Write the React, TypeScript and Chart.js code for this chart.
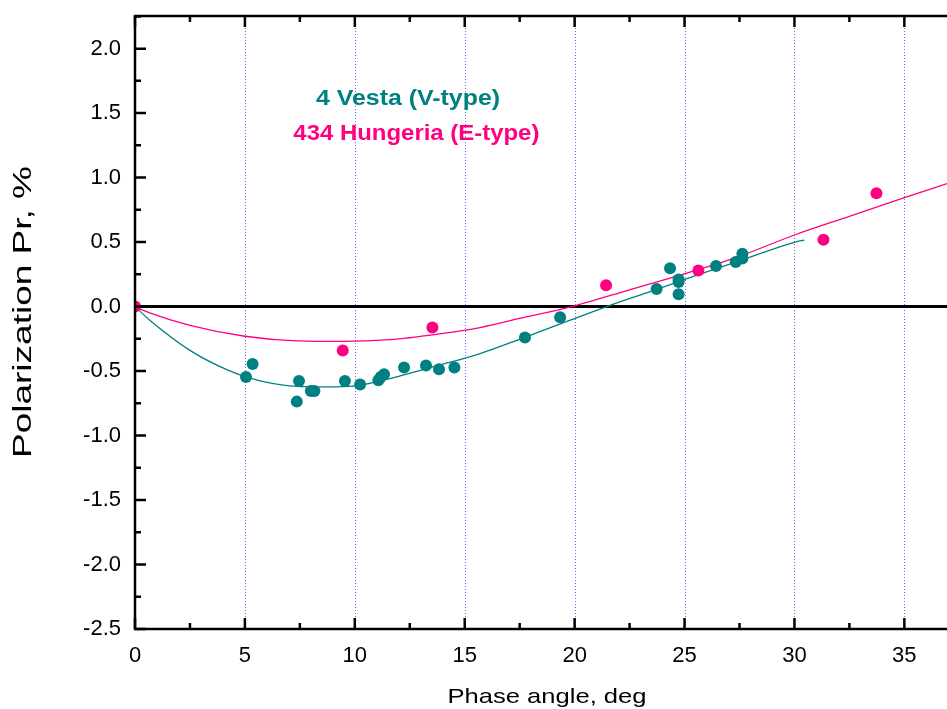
import React, { useEffect, useRef } from "react";
import { Chart, registerables } from "chart.js";

Chart.register(...registerables);

// Observed data: 4 Vesta (V-type)
const vestaX = [5.05, 5.35, 7.36, 7.46, 8.0, 8.16, 9.55, 10.24, 11.07, 11.18, 11.33, 12.24, 13.24, 13.83, 14.53, 17.74, 19.34, 23.73, 24.34, 24.73, 24.73, 24.73, 26.43, 27.33, 27.63, 27.63];
const vestaY = [-0.546, -0.445, -0.737, -0.577, -0.654, -0.654, -0.577, -0.605, -0.571, -0.546, -0.525, -0.473, -0.457, -0.486, -0.473, -0.24, -0.083, 0.137, 0.297, 0.21, 0.19, 0.095, 0.315, 0.346, 0.41, 0.372];

// Observed data: 434 Hungeria (E-type)
const hungX = [0, 9.45, 13.53, 21.43, 25.63, 31.32, 33.73];
const hungY = [0, -0.341, -0.163, 0.165, 0.279, 0.519, 0.878];

// Fitted curves
const vestaFitX = [0, 0.7, 2.5, 4.25, 6.0, 8.1, 9.8, 11.6, 13.5, 15.7, 17.7, 19.5, 21.46, 23.5, 25.5, 27.5, 30.03, 30.45];
const vestaFitY = [0, -0.11, -0.34, -0.494, -0.587, -0.623, -0.618, -0.558, -0.47, -0.364, -0.24, -0.125, 0, 0.12, 0.24, 0.355, 0.5, 0.516];
const hungFitX = [0, 0.7, 2.5, 5.0, 7.4, 9.5, 11.6, 13.7, 15.7, 17.5, 19.87, 22.5, 25.1, 27.5, 30.0, 32.5, 35.0, 36.94];
const hungFitY = [0, -0.05, -0.145, -0.23, -0.266, -0.27, -0.256, -0.215, -0.163, -0.092, 0, 0.13, 0.26, 0.39, 0.555, 0.7, 0.845, 0.953];

const xTickValues = [0, 5, 10, 15, 20, 25, 30, 35];
const yTickValues = [-2.5, -2.0, -1.5, -1.0, -0.5, 0.0, 0.5, 1.0, 1.5, 2.0];

const X_MIN = 0;
const X_MAX = 36.94;
const Y_MIN = -2.5;
const Y_MAX = 2.253;

const X_TITLE = "Phase angle, deg";
const Y_TITLE = "Polarization Pr, %";
const LABEL_VESTA = "4 Vesta (V-type)";
const LABEL_HUNG = "434 Hungeria (E-type)";

const TEAL = "#008080";
const PINK = "#FF0080";
const FONT = "'Liberation Sans', Arial, Helvetica, sans-serif";

const pts = (xs: number[], ys: number[]) => xs.map((x, i) => ({ x, y: ys[i] }));

function stretchedText(ctx: any, text: string, x: number, y: number, font: string, targetWidth: number, color: string, rotate = 0) {
  ctx.save();
  ctx.font = font;
  ctx.fillStyle = color;
  ctx.textAlign = "center";
  ctx.textBaseline = "alphabetic";
  const w = ctx.measureText(text).width;
  const sx = targetWidth / w;
  ctx.translate(x, y);
  if (rotate) ctx.rotate(rotate);
  ctx.scale(sx, 1);
  ctx.fillText(text, 0, 0);
  ctx.restore();
}

const framePlugin = {
  id: "frame",
  beforeDatasetsDraw(chart: any) {
    const { ctx, chartArea } = chart;
    const xs = chart.scales.x;
    const ys = chart.scales.y;
    ctx.save();
    ctx.strokeStyle = "rgba(60,60,255,0.75)";
    ctx.lineWidth = 1;
    ctx.setLineDash([1, 2]);
    xTickValues.forEach((v) => {
      if (v === 0) return;
      const px = Math.round(xs.getPixelForValue(v)) + 0.5;
      ctx.beginPath();
      ctx.moveTo(px, chartArea.top);
      ctx.lineTo(px, chartArea.bottom);
      ctx.stroke();
    });
    ctx.setLineDash([]);
    const y0 = ys.getPixelForValue(0);
    ctx.strokeStyle = "#000";
    ctx.lineWidth = 3;
    ctx.beginPath();
    ctx.moveTo(chartArea.left, y0);
    ctx.lineTo(chartArea.right, y0);
    ctx.stroke();
    ctx.restore();
  },
  afterDatasetsDraw(chart: any) {
    const { ctx, chartArea } = chart;
    const xs = chart.scales.x;
    const ys = chart.scales.y;
    const { left, right, top, bottom } = chartArea;
    ctx.save();
    ctx.strokeStyle = "#000";
    ctx.lineWidth = 2.5;
    ctx.beginPath();
    ctx.moveTo(left, top - 1.25);
    ctx.lineTo(left, bottom + 1.25);
    ctx.moveTo(left, bottom);
    ctx.lineTo(right, bottom);
    ctx.moveTo(left, top);
    ctx.lineTo(right, top);
    ctx.stroke();
    ctx.beginPath();
    for (let v = Y_MIN; v <= Y_MAX + 1e-9; v += 0.25) {
      const major = Math.abs(v * 2 - Math.round(v * 2)) < 1e-6;
      const len = major ? 11 : 6;
      const py = ys.getPixelForValue(v);
      ctx.moveTo(left, py);
      ctx.lineTo(left + len, py);
    }
    for (let v = X_MIN; v <= X_MAX + 1e-9; v += 2.5) {
      const major = Math.abs(v / 5 - Math.round(v / 5)) < 1e-6;
      const len = major ? 11 : 6;
      const px = xs.getPixelForValue(v);
      ctx.moveTo(px, bottom);
      ctx.lineTo(px, bottom - len);
      ctx.moveTo(px, top);
      ctx.lineTo(px, top + len);
    }
    ctx.stroke();
    ctx.restore();

    stretchedText(ctx, LABEL_VESTA, xs.getPixelForValue(12.42), ys.getPixelForValue(1.56), `bold 22px ${FONT}`, 184, TEAL);
    stretchedText(ctx, LABEL_HUNG, xs.getPixelForValue(12.8), ys.getPixelForValue(1.295), `bold 22px ${FONT}`, 246, PINK);
  },
  afterDraw(chart: any) {
    const { ctx, chartArea } = chart;
    stretchedText(ctx, X_TITLE, (chartArea.left + chartArea.right) / 2 + 6, 703, `21px ${FONT}`, 199, "#000");
    stretchedText(ctx, Y_TITLE, 31, 312, `26px ${FONT}`, 292, "#000", -Math.PI / 2);
  },
};

export default function App() {
  const ref = useRef<HTMLCanvasElement | null>(null);
  useEffect(() => {
    if (!ref.current) return;
    const chart = new Chart(ref.current, {
      type: "scatter",
      data: {
        datasets: [
          {
            label: "4 Vesta",
            data: pts(vestaX, vestaY),
            backgroundColor: TEAL,
            borderColor: TEAL,
            pointRadius: 6,
            pointBorderWidth: 0,
            showLine: false,
            clip: 0,
          } as any,
          {
            label: "434 Hungeria",
            data: pts(hungX, hungY),
            backgroundColor: PINK,
            borderColor: PINK,
            pointRadius: 6,
            pointBorderWidth: 0,
            showLine: false,
            clip: 0,
          } as any,
          {
            label: "Vesta fit",
            data: pts(vestaFitX, vestaFitY),
            borderColor: TEAL,
            borderWidth: 1.3,
            pointRadius: 0,
            showLine: true,
            cubicInterpolationMode: "monotone",
            clip: 0,
          } as any,
          {
            label: "Hungeria fit",
            data: pts(hungFitX, hungFitY),
            borderColor: PINK,
            borderWidth: 1.3,
            pointRadius: 0,
            showLine: true,
            cubicInterpolationMode: "monotone",
            clip: 0,
          } as any,
        ],
      },
      options: {
        animation: false,
        responsive: false,
        layout: { autoPadding: false, padding: { top: 16, right: 0, left: 0, bottom: 0 } },
        plugins: {
          legend: { display: false },
          tooltip: { enabled: false },
        },
        scales: {
          x: {
            type: "linear",
            min: X_MIN,
            max: X_MAX,
            grid: { display: false, drawTicks: false },
            border: { display: false },
            afterFit: (s: any) => {
              s.height = 80;
              s.paddingLeft = 0;
              s.paddingRight = 0;
            },
            afterBuildTicks: (s: any) => {
              s.ticks = xTickValues.map((v) => ({ value: v }));
            },
            ticks: {
              padding: 14,
              color: "#000",
              font: { family: FONT, size: 22 },
              maxRotation: 0,
              autoSkip: false,
              callback: (v: any) => String(v),
            },
          },
          y: {
            type: "linear",
            min: Y_MIN,
            max: Y_MAX,
            grid: { display: false, drawTicks: false },
            border: { display: false },
            afterFit: (s: any) => {
              s.width = 135;
              s.paddingTop = 0;
              s.paddingBottom = 0;
            },
            afterBuildTicks: (s: any) => {
              s.ticks = yTickValues.map((v) => ({ value: v }));
            },
            ticks: {
              padding: 14,
              color: "#000",
              font: { family: FONT, size: 22 },
              autoSkip: false,
              callback: (v: any) => Number(v).toFixed(1),
            },
          },
        },
      },
      plugins: [framePlugin],
    });
    return () => chart.destroy();
  }, []);
  return (
    <div style={{ position: "absolute", left: 0, top: 0, width: 947, height: 709, background: "#fff" }}>
      <canvas ref={ref} width={947} height={709} style={{ display: "block" }} />
    </div>
  );
}
